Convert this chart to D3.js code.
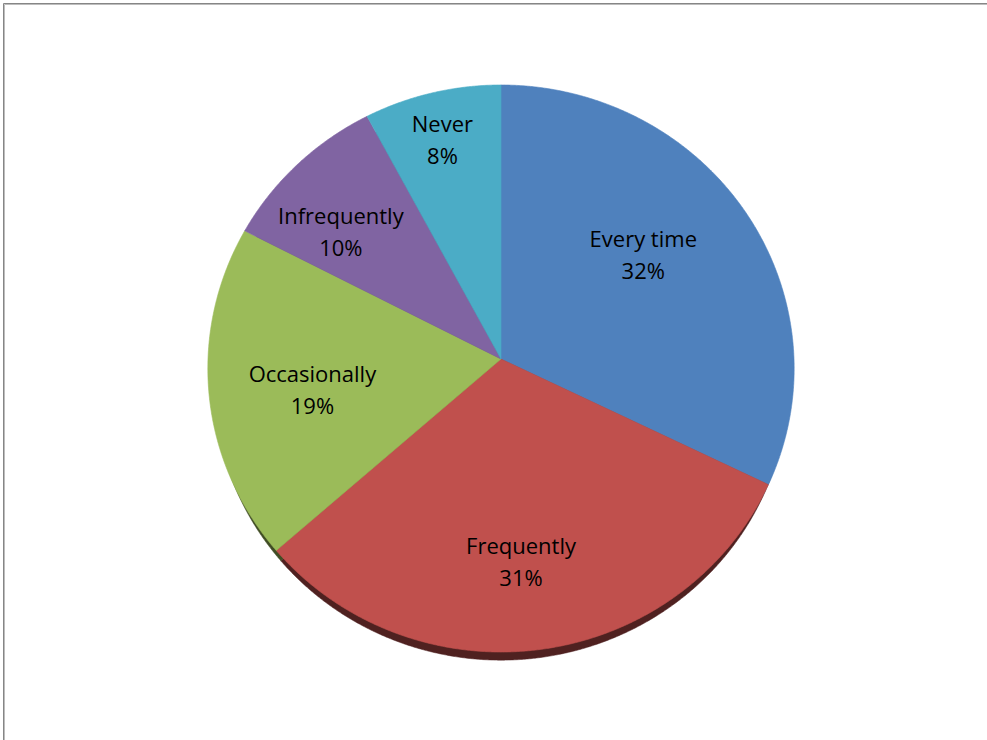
<!DOCTYPE html>
<html>
<head>
<meta charset="utf-8">
<script src="https://cdn.jsdelivr.net/npm/d3@7"></script>
<style>
  html, body { margin: 0; padding: 0; background: #fff; }
  svg { display: block; }
</style>
</head>
<body>
<svg id="chart" width="987" height="740"></svg>
<script>
// ---- data ----
const categories = ["Every time", "Frequently", "Occasionally", "Infrequently", "Never"];
const values = [32.2, 31.3, 19.1, 9.6, 7.8];
const colors = ["#4f81bd", "#c0504d", "#9bbb59", "#8064a2", "#4bacc6"];

// ---- layout ----
const W = 987, H = 740;
const cx = 501, cy = 359;      // apex of the slices (top face)
const A = 293, B = 283.2;      // horizontal / vertical radii
const k = 0.0335;              // slight perspective tilt
const depth = 14, depthScale = 0.98;
// label placement: [radius fraction, angular nudge in degrees]
const labelPlace = [[0.60, -3], [0.73, 2.5], [0.655, -5], [0.70, -7], [0.79, -1]];

const svg = d3.select("#chart");

// frame border
svg.append("path").attr("d", `M3.5,${H + 5} V3.5 H${W + 5}`)
  .attr("fill", "none").attr("stroke", "#868686").attr("stroke-width", 1);
svg.append("path").attr("d", `M4.5,${H + 5} V4.5 H${W + 5}`)
  .attr("fill", "none").attr("stroke", "#bdbdbd").attr("stroke-width", 1);

// projection from unit-disc coords (u right, v down) to screen
function proj(u, v) {
  const den = 1 - k * v;
  return [cx + A * u / den, cy + B * v / den];
}
function projAngle(a, r) {
  return proj(r * Math.sin(a), -r * Math.cos(a));
}

const pie = d3.pie().sort(null).value(d => d)(values);

function slicePoints(p) {
  const pts = [[cx, cy]];
  const n = Math.max(8, Math.ceil((p.endAngle - p.startAngle) / 0.005));
  for (let i = 0; i <= n; i++) {
    const a = p.startAngle + (p.endAngle - p.startAngle) * i / n;
    pts.push(projAngle(a, 1));
  }
  return pts;
}
const line = d3.line().curve(d3.curveLinearClosed);

// depth (side wall) drawn first
const gDepth = svg.append("g");
pie.forEach((p, i) => {
  const pts = slicePoints(p).map(([x, y]) => [cx + depthScale * (x - cx), cy + depthScale * (y - cy) + depth]);
  gDepth.append("path").attr("d", line(pts))
    .attr("fill", d3.color(colors[i]).darker(2.5))
    .attr("stroke", d3.color(colors[i]).darker(2.5)).attr("stroke-width", 0.5);
});

// top faces
const gTop = svg.append("g");
pie.forEach((p, i) => {
  gTop.append("path").attr("d", line(slicePoints(p)))
    .attr("fill", colors[i])
    .attr("stroke", colors[i]).attr("stroke-width", 0.6);
});

// labels
const total = d3.sum(values);
const gLab = svg.append("g")
  .attr("font-family", "'Open Sans', 'Noto Sans', sans-serif")
  .attr("font-size", 22)
  .attr("fill", "#000")
  .attr("text-anchor", "middle");
pie.forEach((p, i) => {
  const mid = (p.startAngle + p.endAngle) / 2 + labelPlace[i][1] * Math.PI / 180;
  const [x, y] = projAngle(mid, labelPlace[i][0]);
  const t = gLab.append("text");
  t.append("tspan").attr("x", x).attr("y", y - 16).text(categories[i]);
  t.append("tspan").attr("x", x).attr("y", y + 16).text(Math.round(values[i] / total * 100) + "%");
});
</script>
</body>
</html>
